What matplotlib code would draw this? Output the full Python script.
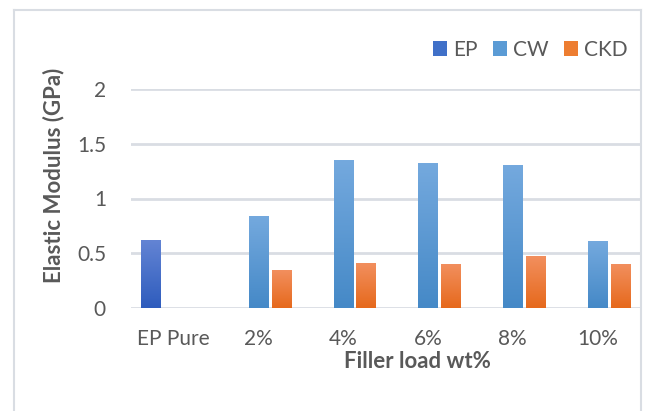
import numpy as np
import matplotlib
matplotlib.use("Agg")
import matplotlib.pyplot as plt
from matplotlib.colors import LinearSegmentedColormap
from matplotlib.lines import Line2D
from matplotlib.patches import Patch

# elastic modulus (GPa) per filler load
categories = ["EP Pure", "2%", "4%", "6%", "8%", "10%"]
ep_vals = [0.62, 0, 0, 0, 0, 0]
cw_vals = [0, 0.84, 1.35, 1.32, 1.30, 0.61]
ckd_vals = [0, 0.34, 0.41, 0.40, 0.47, 0.40]

series = [
    ("EP", ep_vals, "#6384d4", "#2e5cbd", -1),
    ("CW", cw_vals, "#74a9de", "#4589c7", 0),
    ("CKD", ckd_vals, "#f28f5e", "#e6691c", 1),
]

plt.rcParams['font.family'] = ['Lato', 'DejaVu Sans']
txt = "#595959"

fig = plt.figure(figsize=(6.45, 4.11), dpi=100)
ax = fig.add_axes([131 / 645, 1 - 308 / 411, 509 / 645, 219 / 411])

x = np.arange(len(categories))
width = 0.225
step = 0.27


def gradient_bar(ax, xc, h, top, bottom):
    if h <= 0:
        return
    cmap = LinearSegmentedColormap.from_list("g", [bottom, top])
    grad = np.linspace(0, 1, 128).reshape(-1, 1)
    ax.imshow(grad, cmap=cmap, origin="lower", aspect="auto",
              extent=(xc - width / 2, xc + width / 2, 0, h), zorder=3)


for name, vals, top, bottom, off in series:
    for xi, v in zip(x, vals):
        gradient_bar(ax, xi + off * step, v, top, bottom)

ax.set_xlim(-0.5, len(categories) - 0.5)
ax.set_ylim(0, 2)
ax.set_yticks([0, 0.5, 1, 1.5, 2])
ax.set_yticklabels(["0", "0.5", "1", "1.5", "2"])
ax.set_xticks(x)
ax.set_xticklabels(categories)
ax.tick_params(axis="both", length=0, labelsize=15, colors=txt)
ax.tick_params(axis="x", pad=15)
ax.tick_params(axis="y", pad=18)
ax.grid(axis="y", color="#d9dde3", linewidth=2, zorder=0)
ax.set_axisbelow(True)
for s in ax.spines.values():
    s.set_visible(False)

ax.set_ylabel("Elastic Modulus (GPa)", fontsize=16, fontweight="bold", color=txt)
ax.yaxis.set_label_coords(-67 / 509, (308 - 175) / 219)
ax.set_xlabel("Filler load wt%", fontsize=16, fontweight="bold", color=txt)
ax.xaxis.set_label_coords(0.562, -43 / 219)

handles = [Patch(facecolor=c, edgecolor="none") for c in ["#4070c8", "#5b9bd5", "#ed7d31"]]
fig.legend(handles, ["EP", "CW", "CKD"], loc="center right", bbox_to_anchor=(628 / 645, 1 - 50 / 411),
           borderaxespad=0, borderpad=0, ncol=3, frameon=False, fontsize=15, labelcolor=txt,
           handlelength=0.7, handleheight=0.7, columnspacing=0.7, handletextpad=0.3)

# outer chart frame
fc = "#d9dde3"
fig.add_artist(Line2D([14 / 645, 14 / 645], [0, 1 - 10 / 411], color=fc, linewidth=1.5))
fig.add_artist(Line2D([14 / 645, 641 / 645], [1 - 10 / 411, 1 - 10 / 411], color=fc, linewidth=1.5))
fig.add_artist(Line2D([641 / 645, 641 / 645], [0, 1 - 10 / 411], color=fc, linewidth=1.5))

fig.savefig("out.png", dpi=100)
